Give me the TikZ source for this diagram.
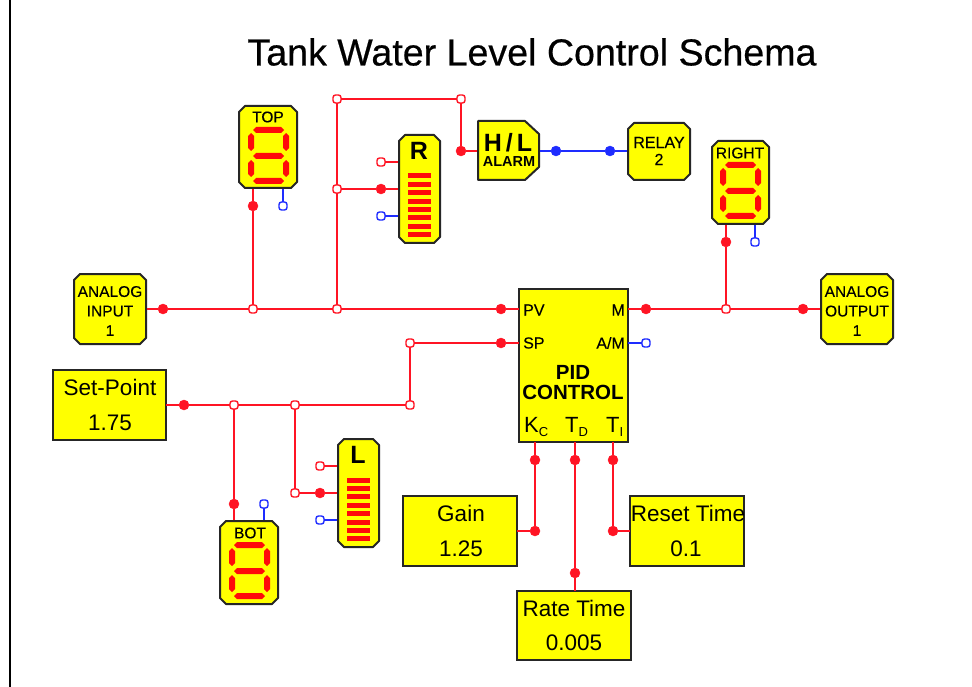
\documentclass[tikz,border=0pt]{standalone}
\usepackage{fontspec}
\setmainfont{Liberation Sans}
\newfontfamily\heavier[FakeBold=0.5]{Liberation Sans}
\newfontfamily\semi[FakeBold=0.3]{Liberation Sans}
\definecolor{blk}{HTML}{FFFF00}
\definecolor{wr}{HTML}{FF1424}
\definecolor{sg}{HTML}{FF0A0A}
\definecolor{wb}{HTML}{1E2CFF}
\definecolor{edge}{HTML}{262626}
\tikzset{x=1pt,y=-1pt,
 box/.style={draw=edge,line width=2pt,fill=blk,inner sep=0pt,outer sep=0pt,anchor=north west,rectangle,xshift=1pt,yshift=-1pt},
 chamf/.style={draw=edge,line width=2pt,fill=blk,line join=round},
 ghost/.style={inner sep=0pt,outer sep=0pt,anchor=north west,rectangle},
 wire/.style={draw=wr,line width=1.6pt},
 bwire/.style={draw=wb,line width=1.8pt},
 filled/.style={circle,fill=wr,draw=wr,inner sep=0pt,outer sep=0pt,minimum size=10pt},
 bfilled/.style={circle,fill=wb,draw=wb,inner sep=0pt,outer sep=0pt,minimum size=10pt},
 openr/.style={rectangle,rounded corners=2.5pt,fill=white,draw=wr,line width=1.4pt,inner sep=0pt,outer sep=0pt,minimum size=8pt},
 openb/.style={rectangle,rounded corners=2.5pt,fill=white,draw=wb,line width=1.4pt,inner sep=0pt,outer sep=0pt,minimum size=8pt},
 lab/.style={inner sep=0pt,font=\semi\fontsize{15.5}{19}\selectfont,align=center},
 big/.style={inner sep=0pt,font=\fontsize{22.5}{25}\selectfont},
 sub/.style={lab,font=\fontsize{22}{24}\selectfont,anchor=west},
}
% name, x, y, w, h, chamfer
\newcommand{\chambox}[6]{%
 \node[ghost,minimum width=#4pt,minimum height=#5pt] (#1) at (#2,#3) {};
 \draw[chamf] ({#2+#6+1},{#3+1}) -- ({#2+#4-#6-1},{#3+1}) -- ({#2+#4-1},{#3+#6+1}) -- ({#2+#4-1},{#3+#5-#6-1})
   -- ({#2+#4-#6-1},{#3+#5-1}) -- ({#2+#6+1},{#3+#5-1}) -- ({#2+1},{#3+#5-#6-1}) -- ({#2+1},{#3+#6+1}) -- cycle;}
\newcommand{\hsegm}[1]{\fill[sg] (15,#1) -- (18,{#1-3}) -- (43,{#1-3}) -- (46,#1) -- (43,{#1+3}) -- (18,{#1+3}) -- cycle;}
\newcommand{\vsegm}[3]{\fill[sg] (#1,#2) -- ({#1+3},{#2+3}) -- ({#1+3},{#3-3}) -- (#1,#3) -- ({#1-3},{#3-3}) -- ({#1-3},{#2+3}) -- cycle;}
\newcommand{\sevenseg}[2]{%
 \begin{scope}[shift={(#1,#2)}]
  \hsegm{25}\hsegm{51}\hsegm{76}
  \vsegm{13}{28}{46}\vsegm{48}{28}{46}\vsegm{13}{55}{72}\vsegm{48}{55}{72}
 \end{scope}}
\newcommand{\bars}[2]{%
 \begin{scope}[shift={(#1,#2)}]
  \foreach \k in {0,...,7} \fill[sg] (10,{39.5+8.4*\k}) rectangle (33,{44.5+8.4*\k});
 \end{scope}}
\begin{document}
\begin{tikzpicture}
\useasboundingbox (0,0) rectangle (972,687);
\fill[white] (0,0) rectangle (972,687);
\coordinate (lt) at (10,0); \coordinate (lb) at (10,687);
\draw[black,line width=2pt] (lt)--(lb);
\node[inner sep=0pt,font=\heavier\fontsize{37.6}{40}\selectfont] (title) at (532,52) {Tank Water Level Control Schema};

% blocks
\chambox{top}{238}{105}{60}{84}{6}
\chambox{r}{398}{134}{43}{110}{6}
\node[ghost,minimum width=63pt,minimum height=61pt] (hl) at (477,120) {};
\draw[chamf] (478,121) -- (525,121) -- (539,134) -- (539,167) -- (525,180) -- (478,180) -- cycle;
\chambox{relay}{627}{122}{64}{59}{6}
\chambox{right}{711}{140}{59}{85}{6}
\chambox{aout}{820}{273}{74}{72}{6}
\chambox{ain}{73}{273}{74}{72}{6}
\node[box,minimum width=109pt,minimum height=153pt] (pid) at (518,288) {};
\node[box,minimum width=113pt,minimum height=70pt] (sp) at (52,369) {};
\chambox{bot}{219}{520}{60}{85}{6}
\chambox{l}{337}{438}{43}{110}{6}
\node[box,minimum width=114pt,minimum height=70pt] (gain) at (402,495) {};
\node[box,minimum width=114pt,minimum height=69pt] (rate) at (516,590) {};
\node[box,minimum width=114pt,minimum height=70pt] (reset) at (629,495) {};

% ports and junctions
\node[filled] (p1) at (163,309) {};
\node[openr] (j1) at (253,309) {};
\node[openr] (j2) at (337,309) {};
\node[filled] (p2) at (501,309) {};
\node[filled] (p3) at (253,206) {};
\node[openb] (p4) at (283,206) {};
\node[openr] (j3) at (337,189) {};
\node[openr] (j4) at (337,99) {};
\node[openr] (j5) at (461,99) {};
\node[filled] (p5) at (461,151) {};
\node[openr] (p6) at (381,162) {};
\node[filled] (p7) at (381,189) {};
\node[openb] (p8) at (381,216) {};
\node[bfilled] (p9) at (556,151) {};
\node[bfilled] (p10) at (610,151) {};
\node[filled] (p11) at (646,309) {};
\node[openr] (j6) at (726,309) {};
\node[filled] (p12) at (803,309) {};
\node[filled] (p13) at (726,242) {};
\node[openb] (p14) at (755,242) {};
\node[openb] (p15) at (646,343) {};
\node[filled] (p16) at (501,343) {};
\node[openr] (j7) at (410,343) {};
\node[openr] (j8) at (410,405) {};
\node[filled] (p17) at (184,405) {};
\node[openr] (j9) at (234,405) {};
\node[openr] (j10) at (295,405) {};
\node[filled] (p18) at (234,504) {};
\node[openb] (p19) at (264,504) {};
\node[openr] (j11) at (295,493) {};
\node[filled] (p20) at (320,493) {};
\node[openr] (p21) at (320,466) {};
\node[openb] (p22) at (320,520) {};
\node[filled] (p23) at (535,460) {};
\node[filled] (p24) at (575,460) {};
\node[filled] (p25) at (613,460) {};
\node[filled] (p26) at (535,531) {};
\node[filled] (p27) at (575,573) {};
\node[filled] (p28) at (613,531) {};

% connectors
\draw[wire] (ain.east|-p1) -- (p1) -- (j1) -- (j2) -- (p2) -- (pid.west|-p2);
\draw[wire] (top.south-|p3) -- (p3) -- (j1);
\draw[bwire] (top.south-|p4) -- (p4);
\draw[wire] (j2) -- (j3) -- (j4) -- (j5) -- (p5) -- (hl.west|-p5);
\draw[wire] (j3) -- (p7) -- (r.west|-p7);
\draw[wire] (p6) -- (r.west|-p6);
\draw[bwire] (p8) -- (r.west|-p8);
\draw[bwire] (hl.east|-p9) -- (p9) -- (p10) -- (relay.west|-p10);
\draw[wire] (pid.east|-p11) -- (p11) -- (j6) -- (p12) -- (aout.west|-p12);
\draw[wire] (right.south-|p13) -- (p13) -- (j6);
\draw[bwire] (right.south-|p14) -- (p14);
\draw[bwire] (pid.east|-p15) -- (p15);
\draw[wire] (pid.west|-p16) -- (p16) -- (j7) -- (j8) -- (j10) -- (j9) -- (p17) -- (sp.east|-p17);
\draw[wire] (j9) -- (p18) -- (bot.north-|p18);
\draw[bwire] (p19) -- (bot.north-|p19);
\draw[wire] (j10) -- (j11) -- (p20) -- (l.west|-p20);
\draw[wire] (p21) -- (l.west|-p21);
\draw[bwire] (p22) -- (l.west|-p22);
\draw[wire] (pid.south-|p23) -- (p23) -- (p26) -- (gain.east|-p26);
\draw[wire] (pid.south-|p24) -- (p24) -- (p27) -- (rate.north-|p27);
\draw[wire] (pid.south-|p25) -- (p25) -- (p28) -- (reset.west|-p28);

% displays
\sevenseg{238}{105}\sevenseg{710}{140}\sevenseg{219}{520}
\bars{398}{134}\bars{337}{438}

% labels
\node[lab] (t1) at (268,117) {TOP};
\node[lab] (t2) at (740,153) {RIGHT};
\node[lab] (t3) at (250,533) {BOT};
\node[lab,font=\fontsize{25}{26}\selectfont\bfseries] (t4) at (419,151) {R};
\node[lab,font=\fontsize{25}{26}\selectfont\bfseries] (t5) at (358,455) {L};
\node[lab,font=\fontsize{25}{26}\selectfont\bfseries] (t6) at (508,143) {H\hspace{4pt}/\hspace{4pt}L};
\node[lab,font=\fontsize{14.5}{15}\selectfont\bfseries] (t7) at (509,162) {ALARM};
\node[lab,font=\semi\fontsize{16}{17}\selectfont] (t8) at (659,151) {RELAY\\2};
\node[lab,font=\semi\fontsize{15.5}{19.5}\selectfont] (t9) at (110,311) {ANALOG\\INPUT\\1};
\node[lab,font=\semi\fontsize{15.5}{19.5}\selectfont] (t10) at (857,311) {ANALOG\\OUTPUT\\1};
\node[lab,font=\semi\fontsize{16}{18}\selectfont,anchor=west] (t11) at (523,310) {PV};
\node[lab,font=\semi\fontsize{16}{18}\selectfont,anchor=west] (t12) at (523,343) {SP};
\node[lab,font=\semi\fontsize{16}{18}\selectfont,anchor=east] (t13) at (625,310) {M};
\node[lab,font=\semi\fontsize{16}{18}\selectfont,anchor=east] (t14) at (625,343) {A/M};
\node[lab,font=\fontsize{20.5}{20}\selectfont\bfseries] (t15) at (573,383) {PID\\CONTROL};
\node[sub] (t16) at (524,427) {K\raisebox{-4pt}{\fontsize{13}{13}\selectfont C}};
\node[sub] (t17) at (565,427) {T\raisebox{-4pt}{\fontsize{13}{13}\selectfont D}};
\node[sub] (t18) at (606,427) {T\raisebox{-4pt}{\fontsize{13}{13}\selectfont I}};
\node[big] (t19) at (110,387) {Set-Point};
\node[big] (t20) at (110,423) {1.75};
\node[big] (t21) at (461,513) {Gain};
\node[big] (t22) at (461,549) {1.25};
\node[big] (t23) at (574,608) {Rate Time};
\node[big] (t24) at (574,643) {0.005};
\node[big] (t25) at (688,513) {Reset Time};
\node[big] (t26) at (686,549) {0.1};
\end{tikzpicture}
\end{document}
